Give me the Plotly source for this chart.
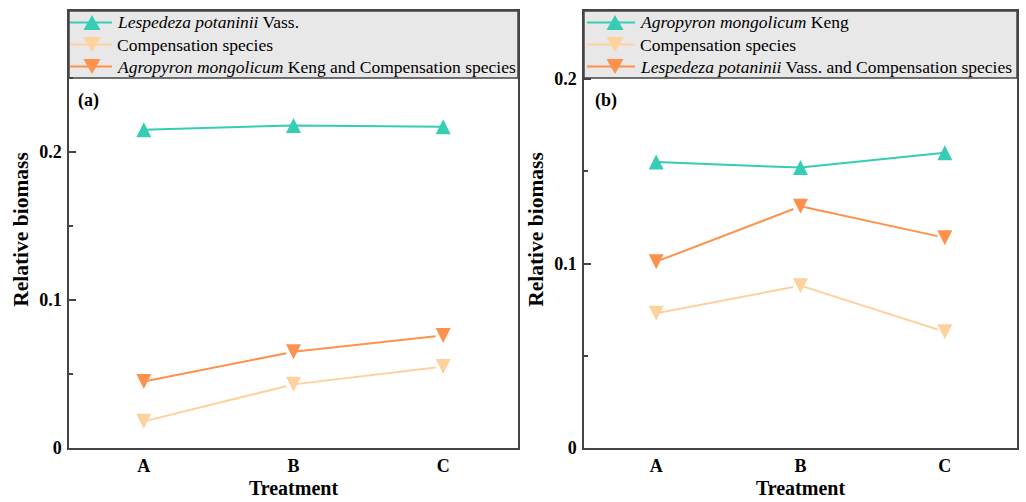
import plotly.graph_objects as go

categories = ["A", "B", "C"]

# Panel (a)
a_lespedeza = [0.215, 0.218, 0.217]
a_comp = [0.018, 0.043, 0.055]
a_agro_comp = [0.045, 0.065, 0.076]

# Panel (b)
b_agropyron = [0.155, 0.152, 0.160]
b_comp = [0.073, 0.088, 0.063]
b_lesp_comp = [0.101, 0.131, 0.114]

names_a = ["<i>Lespedeza potaninii</i> Vass.", "Compensation species",
           "<i>Agropyron mongolicum</i> Keng and Compensation species"]
names_b = ["<i>Agropyron mongolicum</i> Keng", "Compensation species",
           "<i>Lespedeza potaninii</i> Vass. and Compensation species"]

GREEN = "#36CDB4"
LIGHT = "#FFD19C"
ORANGE = "#FF914D"
FONT = "Liberation Serif"
AXC = "#444444"

W, H = 1026, 502
def px_x(p): return p / W
def px_y(p): return 1 - p / H

MS = 15
def up_marker(color):
    return dict(symbol="arrow-down", angle=180, standoff=MS / 2, size=MS, color=color, line=dict(width=0))
def down_marker(color):
    return dict(symbol="arrow-down", angle=0, standoff=MS / 2, size=MS, color=color, line=dict(width=0))

fig = go.Figure()

series_a = [(a_lespedeza, GREEN, up_marker, "up"), (a_comp, LIGHT, down_marker, "down"),
            (a_agro_comp, ORANGE, down_marker, "down")]
series_b = [(b_agropyron, GREEN, up_marker, "up"), (b_comp, LIGHT, down_marker, "down"),
            (b_lesp_comp, ORANGE, down_marker, "down")]

for sfx, series, names in [("", series_a, names_a), ("2", series_b, names_b)]:
    for i, (vals, col, mk, sym) in enumerate(series):
        fig.add_trace(go.Scatter(x=categories, y=vals, mode="lines+markers", name=names[i],
                                 line=dict(color=col, width=2), marker=mk(col), showlegend=False,
                                 xaxis="x" + sfx, yaxis="y" + sfx))

top, bottom = 11, 448
panels = [(69, 518, 0.2953), (584, 1017, 0.2369)]
dom_y = [px_y(bottom), px_y(top)]

axis_common = dict(showline=True, linecolor=AXC, linewidth=1.5, mirror=True, showgrid=False,
                   zeroline=False, automargin=False)
tickfont = dict(family=FONT, size=18, color="black", weight="bold")
titlefont = dict(family=FONT, size=21.5, color="black", weight="bold")

for k, (x0, x1, ymax) in enumerate(panels):
    sfx = "" if k == 0 else "2"
    fig.update_layout(**{
        f"xaxis{sfx}": dict(domain=[px_x(x0), px_x(x1)], anchor=f"y{sfx}", type="category",
                            range=[-0.5, 2.5], ticks="", tickfont=tickfont, ticklabelstandoff=1,
                            title=dict(text="Treatment", font=dict(family=FONT, size=20, color="black", weight="bold"), standoff=6),
                            **axis_common),
        f"yaxis{sfx}": dict(domain=dom_y, anchor=f"x{sfx}", range=[0, ymax], tickvals=[0, 0.1, 0.2],
                            ticktext=["0", "0.1", "0.2"], ticks="inside", ticklen=7, tickwidth=1.5,
                            tickcolor=AXC, tickfont=tickfont, ticklabelstandoff=2,
                            minor=dict(tickvals=[0.05, 0.15, 0.25], ticks="inside", ticklen=4, tickwidth=1.5, tickcolor=AXC),
                            title=dict(text="Relative biomass", font=titlefont, standoff=5),
                            **axis_common),
    })
    # legend band
    fig.add_shape(type="rect", xref="paper", yref="paper", x0=px_x(x0), x1=px_x(x1),
                  y0=px_y(78), y1=px_y(top), fillcolor="#E8E8E8", line=dict(color=AXC, width=1.5), layer="below")

# Manual legends (line sample + triangle + label)
legfont = dict(family=FONT, size=17.5, color="black")
row_y = [22.5, 44.5, 66.5]
leg_layout = [(70, 112, 92, 116, series_a, names_a), (587, 635, 615, 639, series_b, names_b)]
TW, TH = 17, 15
for lx0, lx1, mx, tx, series, names in leg_layout:
    for i, (vals, col, mk, sym) in enumerate(series):
        yy = row_y[i]
        fig.add_shape(type="line", xref="paper", yref="paper", x0=px_x(lx0), x1=px_x(lx1),
                      y0=px_y(yy), y1=px_y(yy), line=dict(color=col, width=2))
        if sym == "up":
            pts = [(mx - TW / 2, yy + TH / 2), (mx + TW / 2, yy + TH / 2), (mx, yy - TH / 2)]
        else:
            pts = [(mx - TW / 2, yy - TH / 2), (mx + TW / 2, yy - TH / 2), (mx, yy + TH / 2)]
        path = "M " + " L ".join(f"{px_x(px):.5f},{px_y(py):.5f}" for px, py in pts) + " Z"
        fig.add_shape(type="path", xref="paper", yref="paper", path=path, fillcolor=col, line=dict(width=0))
        fig.add_annotation(text=names[i], xref="paper", yref="paper", x=px_x(tx), y=px_y(yy),
                           xanchor="left", yanchor="middle", showarrow=False, font=legfont, borderpad=0)

fig.add_annotation(text="(a)", xref="paper", yref="paper", x=px_x(76), y=px_y(100), xanchor="left", yanchor="middle",
                   showarrow=False, font=dict(family=FONT, size=18, color="black", weight="bold"))
fig.add_annotation(text="(b)", xref="paper", yref="paper", x=px_x(593), y=px_y(100), xanchor="left", yanchor="middle",
                   showarrow=False, font=dict(family=FONT, size=18, color="black", weight="bold"))

fig.update_layout(
    width=W, height=H,
    margin=dict(l=0, r=0, t=0, b=0),
    paper_bgcolor="white", plot_bgcolor="white",
    showlegend=False,
)

fig.write_html("out.html", config={"displayModeBar": False},
               post_script="document.body.style.margin='0';")
